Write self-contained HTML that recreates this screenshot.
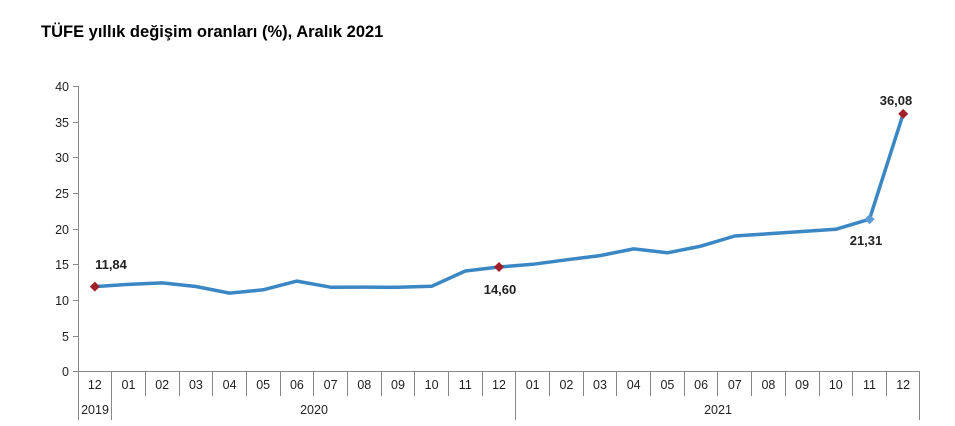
<!DOCTYPE html>
<html><head><meta charset="utf-8"><style>
html,body{margin:0;padding:0;background:#fff;width:955px;height:426px;overflow:hidden}
svg{display:block;font-family:"Liberation Sans",Arial,sans-serif}
</style></head><body>
<svg width="955" height="426" viewBox="0 0 955 426">
<text x="41" y="37" font-size="16.5" font-weight="bold" fill="#000">TÜFE yıllık değişim oranları (%), Aralık 2021</text>
<g stroke="#888" stroke-width="1" fill="none">
<line x1="78.5" y1="86" x2="78.5" y2="371"/>
<line x1="78" y1="371.5" x2="920" y2="371.5"/>
<line x1="73" y1="86.5" x2="78" y2="86.5"/>
<line x1="73" y1="122.5" x2="78" y2="122.5"/>
<line x1="73" y1="157.5" x2="78" y2="157.5"/>
<line x1="73" y1="193.5" x2="78" y2="193.5"/>
<line x1="73" y1="229.5" x2="78" y2="229.5"/>
<line x1="73" y1="264.5" x2="78" y2="264.5"/>
<line x1="73" y1="300.5" x2="78" y2="300.5"/>
<line x1="73" y1="336.5" x2="78" y2="336.5"/>
<line x1="73" y1="371.5" x2="78" y2="371.5"/>
<path d="M78.5 371V420 M111.5 371V420 M145.5 371V396 M179.5 371V396 M212.5 371V396 M246.5 371V396 M280.5 371V396 M313.5 371V396 M347.5 371V396 M381.5 371V396 M414.5 371V396 M448.5 371V396 M482.5 371V396 M515.5 371V420 M549.5 371V396 M583.5 371V396 M616.5 371V396 M650.5 371V396 M684.5 371V396 M717.5 371V396 M751.5 371V396 M785.5 371V396 M819.5 371V396 M852.5 371V396 M886.5 371V396 M919.5 371V420"/>
</g>
<g font-size="12.5" fill="#222" text-anchor="end">
<text x="69" y="91">40</text><text x="69" y="127">35</text><text x="69" y="162">30</text>
<text x="69" y="198">25</text><text x="69" y="234">20</text><text x="69" y="269">15</text>
<text x="69" y="305">10</text><text x="69" y="341">5</text><text x="69" y="376">0</text>
</g>
<g font-size="12.5" fill="#222" text-anchor="middle">
<text x="94.8" y="389">12</text><text x="128.5" y="389">01</text><text x="162.2" y="389">02</text>
<text x="195.9" y="389">03</text><text x="229.6" y="389">04</text><text x="263.2" y="389">05</text>
<text x="296.9" y="389">06</text><text x="330.6" y="389">07</text><text x="364.3" y="389">08</text>
<text x="398" y="389">09</text><text x="431.6" y="389">10</text><text x="465.3" y="389">11</text>
<text x="499" y="389">12</text><text x="532.7" y="389">01</text><text x="566.4" y="389">02</text>
<text x="600" y="389">03</text><text x="633.7" y="389">04</text><text x="667.4" y="389">05</text>
<text x="701.1" y="389">06</text><text x="734.8" y="389">07</text><text x="768.4" y="389">08</text>
<text x="802.1" y="389">09</text><text x="835.8" y="389">10</text><text x="869.5" y="389">11</text>
<text x="903.2" y="389">12</text>
<text x="95" y="414">2019</text><text x="314" y="414">2020</text><text x="718" y="414">2021</text>
</g>
<polyline fill="none" stroke="#3a87c4" stroke-width="3.5" stroke-linejoin="round" points="94.8,286.6 128.5,284.4 162.2,282.9 195.9,286.5 229.6,293.1 263.2,289.8 296.9,281.1 330.6,287.2 364.3,287.1 398,287.3 431.6,286.3 465.3,271 499,267 532.7,264.3 566.4,259.8 600,255.6 633.7,248.9 667.4,252.8 701.1,246.1 734.8,236 768.4,233.8 802.1,231.5 835.8,229.3 869.5,219.2 903.2,113.9"/>
<g fill="#a0202a">
<path d="M94.8 281.6l5 5-5 5-5-5z"/>
<path d="M499 262l5 5-5 5-5-5z"/>
<path d="M903.2 108.9l5 5-5 5-5-5z"/>
</g>
<path d="M869.5 214.2l5 5-5 5-5-5z" fill="#5b9bd5"/>
<g font-size="13" font-weight="bold" fill="#222" text-anchor="middle">
<text x="111" y="269">11,84</text>
<text x="500" y="294">14,60</text>
<text x="866" y="245">21,31</text>
<text x="896" y="105">36,08</text>
</g>
</svg>
</body></html>
